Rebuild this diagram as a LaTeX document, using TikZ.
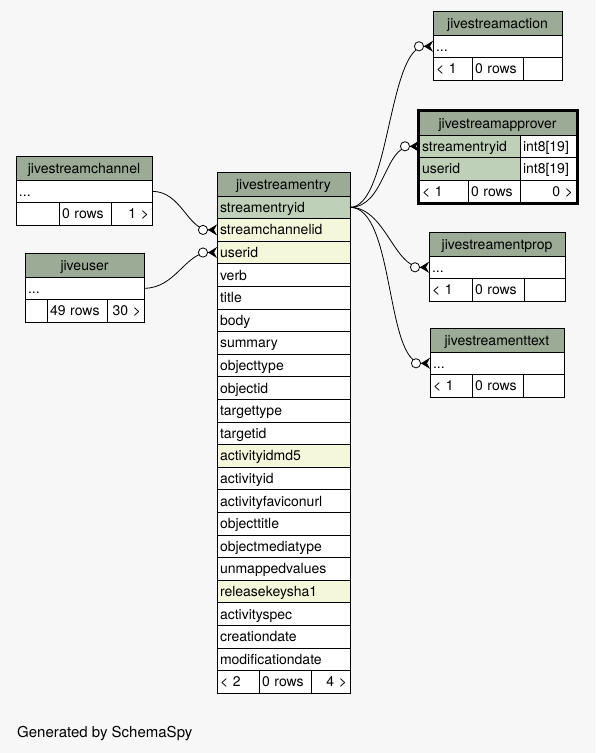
\documentclass[tikz,border=0pt]{standalone}
\usepackage{fontspec}
\setmainfont{TeX Gyre Heros}
\usetikzlibrary{arrows.meta,positioning,fit}
\definecolor{bgcolor}{HTML}{F7F7F7}
\definecolor{hdrcolor}{HTML}{9BAB96}
\definecolor{pkcolor}{HTML}{BED1B8}
\definecolor{idxcolor}{HTML}{F4F7DA}
\tikzset{
    %Define style for one table cell
    cell/.style={
           rectangle,
           draw=black, line width=0.8pt,
           inner xsep=3pt, inner ysep=0pt, outer sep=0pt,
           minimum height=22.6pt,
           text height=12pt, text depth=2pt,
           text width=#1,
           align=left,
           anchor=north west,
           font=\fontsize{14}{16}\selectfont},
    %Define styles for the kinds of rows
    hdr/.style={cell=#1, fill=hdrcolor, align=center, minimum height=24pt},
    pk/.style={cell=#1, fill=pkcolor},
    idx/.style={cell=#1, fill=idxcolor},
    col/.style={cell=#1, fill=white},
    foot/.style={cell=#1, fill=white},
    footr/.style={cell=#1, fill=white, align=right},
    % Define foreign key style
    fk/.style={
           -{Circle[open, fill=white, length=10pt, line width=0.8pt] Stealth[reversed, length=9pt, width=11pt, inset=3pt]},
           line width=0.8pt}
}
\begin{document}
\begin{tikzpicture}[x=1pt, y=-1pt]
 %background
    \fill[bgcolor] (0,0) rectangle (595,753);
    \useasboundingbox (0,0) rectangle (595,753);
 %jivestreamentry
    \node[hdr=127] (ent) at (217,172) {jivestreamentry};
    \node[pk=127, below=0pt of ent] (esid) {streamentryid};
    \node[idx=127, below=0pt of esid] (echan) {streamchannelid};
    \node[idx=127, below=0pt of echan] (euser) {userid};
    \node[col=127, below=0pt of euser] (everb) {verb};
    \node[col=127, below=0pt of everb] (etitle) {title};
    \node[col=127, below=0pt of etitle] (ebody) {body};
    \node[col=127, below=0pt of ebody] (esum) {summary};
    \node[col=127, below=0pt of esum] (eotype) {objecttype};
    \node[col=127, below=0pt of eotype] (eoid) {objectid};
    \node[col=127, below=0pt of eoid] (ettype) {targettype};
    \node[col=127, below=0pt of ettype] (etid) {targetid};
    \node[idx=127, below=0pt of etid] (emd5) {activityidmd5};
    \node[col=127, below=0pt of emd5] (eaid) {activityid};
    \node[col=127, below=0pt of eaid] (efav) {activityfaviconurl};
    \node[col=127, below=0pt of efav] (eotitle) {objecttitle};
    \node[col=127, below=0pt of eotitle] (emedia) {objectmediatype};
    \node[col=127, below=0pt of emedia] (eunmap) {unmappedvalues};
    \node[idx=127, below=0pt of eunmap] (esha) {releasekeysha1};
    \node[col=127, below=0pt of esha] (espec) {activityspec};
    \node[col=127, below=0pt of espec] (ecdate) {creationdate};
    \node[col=127, below=0pt of ecdate] (emdate) {modificationdate};
    \node[foot=36, below right=0pt of emdate.south west] (ef1) {< 2};
    \node[foot=46, right=0pt of ef1] (ef2) {0 rows};
    \node[footr=33, right=0pt of ef2] (ef3) {4 >};
 %jivestreamchannel
    \node[hdr=130] (chan) at (16,156) {jivestreamchannel};
    \node[col=130, below=0pt of chan] (chan1) {...};
    \node[foot=37, below right=0pt of chan1.south west] (cf1) {};
    \node[foot=46, right=0pt of cf1] (cf2) {0 rows};
    \node[footr=35, right=0pt of cf2] (cf3) {1 >};
 %jiveuser
    \node[hdr=113] (usr) at (25,253) {jiveuser};
    \node[col=113, below=0pt of usr] (usr1) {...};
    \node[foot=16, below right=0pt of usr1.south west] (uf1) {};
    \node[foot=54, right=0pt of uf1] (uf2) {49 rows};
    \node[footr=31, right=0pt of uf2] (uf3) {30 >};
 %jivestreamaction
    \node[hdr=123] (act) at (433,11) {jivestreamaction};
    \node[col=123, below=0pt of act] (act1) {...};
    \node[foot=33, below right=0pt of act1.south west] (af1) {< 1};
    \node[foot=45, right=0pt of af1] (af2) {0 rows};
    \node[foot=33, right=0pt of af2] (af3) {};
 %jivestreamapprover
    \node[hdr=151] (apr) at (419,111) {jivestreamapprover};
    \node[pk=95, below right=0pt of apr.south west] (apsid) {streamentryid};
    \node[col=50, right=0pt of apsid] (apsidt) {int8[19]};
    \node[pk=95, below=0pt of apsid] (apuid) {userid};
    \node[col=50, right=0pt of apuid] (apuidt) {int8[19]};
    \node[foot=43, below right=0pt of apuid.south west] (pf1) {< 1};
    \node[foot=46, right=0pt of pf1] (pf2) {0 rows};
    \node[footr=50, right=0pt of pf2] (pf3) {0 >};
    \node[draw=black, line width=2pt, inner sep=1.5pt, fit=(apr)(pf1)(pf3)] (aprbox) {};
 %jivestreamentprop
    \node[hdr=130] (prop) at (429,232) {jivestreamentprop};
    \node[col=130, below=0pt of prop] (prop1) {...};
    \node[foot=37, below right=0pt of prop1.south west] (rf1) {< 1};
    \node[foot=46, right=0pt of rf1] (rf2) {0 rows};
    \node[foot=35, right=0pt of rf2] (rf3) {};
 %jivestreamenttext
    \node[hdr=128] (txt) at (430,328) {jivestreamenttext};
    \node[col=128, below=0pt of txt] (txt1) {...};
    \node[foot=36, below right=0pt of txt1.south west] (tf1) {< 1};
    \node[foot=45, right=0pt of tf1] (tf2) {0 rows};
    \node[foot=35, right=0pt of tf2] (tf3) {};
 %caption
    \node[anchor=base west, inner sep=0pt, font=\fontsize{15}{17}\selectfont] (gen) at (17,737) {Generated by SchemaSpy};
 %edges
    \draw[fk] (chan1.east) to[out=0, in=180] (echan.west);
    \draw[fk] (usr1.east) to[out=0, in=180] (euser.west);
    \draw[fk] (esid.east) .. controls +(40,0) and +(-45,0) .. (act1.west);
    \draw[fk] (esid.east) .. controls +(35,0) and +(-35,0) .. (apsid.west);
    \draw[fk] (esid.east) .. controls +(35,0) and +(-35,0) .. (prop1.west);
    \draw[fk] (esid.east) .. controls +(45,0) and +(-45,0) .. (txt1.west);
\end{tikzpicture}
\end{document}
